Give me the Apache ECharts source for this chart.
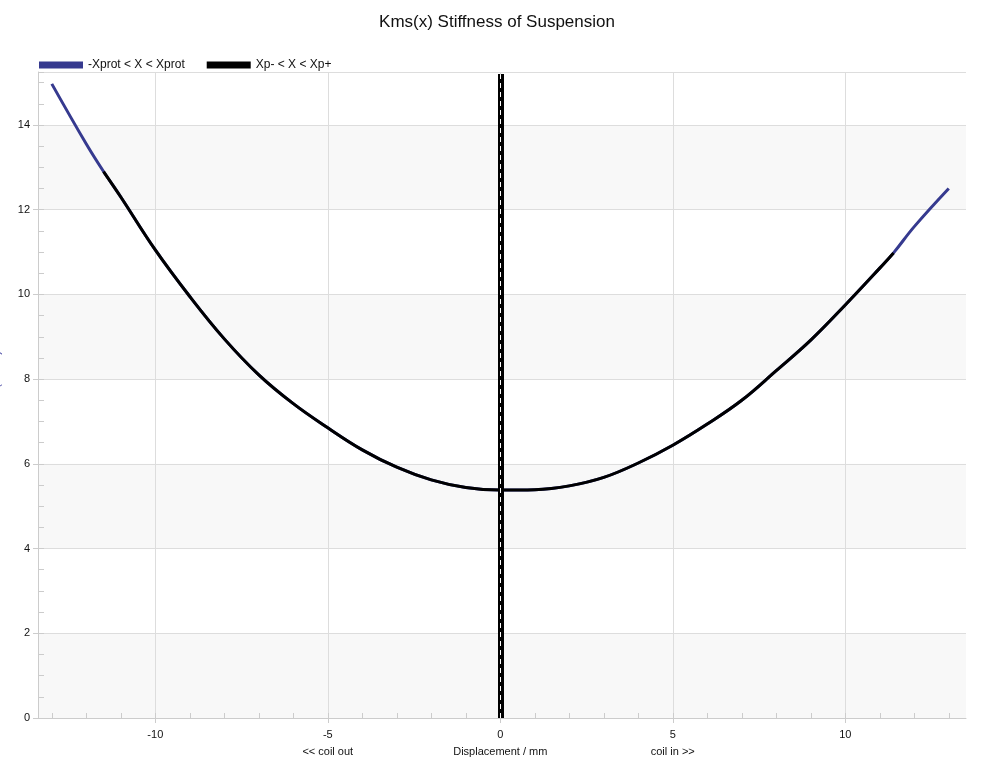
<!DOCTYPE html>
<html>
<head>
<meta charset="utf-8">
<script src="https://cdn.jsdelivr.net/npm/echarts@6/dist/echarts.min.js"></script>
<style>html,body{margin:0;padding:0;background:#fff}#main{width:994px;height:768px}</style>
</head>
<body>
<div id="main"></div>
<script>
// Kms(x)
var xs = [-13, -12, -11.5, -11, -10, -9, -8, -7, -6, -5, -4, -3, -2, -1, 0, 1, 2, 3, 4, 5, 6, 7, 8, 9, 10, 11, 11.4, 12, 13];
var kms = [14.97, 13.55, 12.9, 12.3, 11.05, 9.95, 8.95, 8.1, 7.42, 6.85, 6.33, 5.92, 5.62, 5.44, 5.38, 5.39, 5.48, 5.68, 6.02, 6.44, 6.94, 7.5, 8.2, 8.92, 9.75, 10.62, 10.98, 11.6, 12.5];
var xLabels = [-10, -5, 0, 5, 10];
var xMinor = [-13, -12, -11, -10, -9, -8, -7, -6, -5, -4, -3, -2, -1, 0, 1, 2, 3, 4, 5, 6, 7, 8, 9, 10, 11, 12, 13];
var xpMin = -11.5, xpMax = 11.4;
var subLabels = {'-5': '<< coil out', '0': 'Displacement / mm', '5': 'coil in >>'};

var blueData = [], blackData = [];
for (var i = 0; i < xs.length; i++) {
    blueData.push([xs[i], kms[i]]);
    if (xs[i] >= xpMin && xs[i] <= xpMax) blackData.push([xs[i], kms[i]]);
}

var chart = echarts.init(document.getElementById('main'));
var font = 'Liberation Sans, Arial, sans-serif';
var option = {
    animation: false,
    textStyle: {fontFamily: font},
    title: {
        text: 'Kms(x) Stiffness of Suspension',
        left: 'center', top: 9,
        textStyle: {fontSize: 17, fontWeight: 'normal', color: '#111', fontFamily: font}
    },
    legend: {
        left: 34, top: 54,
        itemWidth: 44, itemHeight: 7, itemGap: 22,
        icon: 'rect',
        textStyle: {fontSize: 12, color: '#111'},
        data: ['-Xprot < X < Xprot', 'Xp- < X < Xp+']
    },
    graphic: [{
        type: 'text', left: 906, top: 84,
        style: {text: 'KLIPPEL', fill: '#3a7fc4', font: 'bold 13px ' + font}
    }],
    grid: {left: 38, right: 28, top: 72, bottom: 50, containLabel: false, outerBoundsMode: 'none'},
    xAxis: [{
        type: 'value', min: -13.4, max: 13.5,
        axisLine: {onZero: false, lineStyle: {color: '#ccc'}},
        axisTick: {customValues: xLabels, length: 5, lineStyle: {color: '#ccc'}},
        axisLabel: {
            customValues: xLabels, fontSize: 11, color: '#111', lineHeight: 17,
            formatter: function (v) {
                var s = subLabels[String(v)];
                return s ? v + '\n' + s : String(v);
            }
        },
        splitLine: {show: true, lineStyle: {color: '#ddd'}}
    }, {
        type: 'value', min: -13.4, max: 13.5, position: 'bottom',
        axisLine: {show: false, onZero: false},
        axisTick: {customValues: xMinor, inside: true, length: 5, lineStyle: {color: '#ccc'}},
        axisLabel: {show: false},
        splitLine: {show: false}
    }],
    yAxis: [{
        type: 'value', min: 0, max: 15.25, interval: 2,
        name: 'Stiffness / (N/mm)', nameLocation: 'middle', nameGap: 36,
        nameTextStyle: {color: '#333399', fontSize: 11},
        axisLine: {show: true, onZero: false, lineStyle: {color: '#ccc'}},
        axisTick: {show: true, length: 5, lineStyle: {color: '#ccc'}},
        axisLabel: {fontSize: 11, color: '#111', margin: 8, showMaxLabel: false},
        splitLine: {show: true, lineStyle: {color: '#ddd'}},
        splitArea: {show: true, areaStyle: {color: ['#f8f8f8', '#ffffff']}}
    }, {
        type: 'value', min: 0, max: 15.25, interval: 0.5, position: 'left',
        axisLine: {show: false, onZero: false},
        axisTick: {show: true, inside: true, length: 6, lineStyle: {color: '#ccc'}},
        axisLabel: {show: false},
        splitLine: {show: false}
    }],
    series: [{
        name: '-Xprot < X < Xprot',
        type: 'line', smooth: 0.4, symbol: 'none',
        itemStyle: {color: '#363a8f'},
        lineStyle: {color: '#363a8f', width: 3},
        data: blueData
    }, {
        name: 'Xp- < X < Xp+',
        type: 'line', smooth: 0.4, symbol: 'none',
        itemStyle: {color: '#000'},
        lineStyle: {color: '#000', width: 3},
        data: blackData,
        markLine: {
            silent: true, symbol: 'none', label: {show: false},
            data: [
                [{coord: [0, 0], lineStyle: {color: '#000', width: 6, type: 'solid'}}, {coord: [0, 15.2]}],
                [{coord: [0, 0], lineStyle: {color: '#fff', width: 1, type: [5, 4]}}, {coord: [0, 15.2]}]
            ]
        }
    }]
};
chart.setOption(option);
</script>
</body>
</html>
